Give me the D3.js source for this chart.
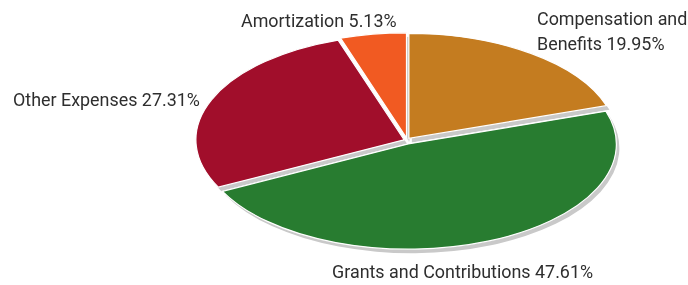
<!DOCTYPE html>
<html>
<head>
<meta charset="utf-8">
<script src="https://cdn.jsdelivr.net/npm/d3@7"></script>
<style>
  html, body { margin: 0; padding: 0; background: #fff; }
  svg { display: block; }
  text { font-family: Roboto, "Liberation Sans", sans-serif; fill: #2e2e2e; }
</style>
</head>
<body>
<svg id="chart" width="688" height="285"></svg>
<script>
// ---- data ----
const categories = ["Compensation and Benefits", "Grants and Contributions", "Other Expenses", "Amortization"];
const values = [19.95, 47.61, 27.31, 5.13];
const colors = ["#C47C20", "#287C30", "#A10E2B", "#F15A22"];
const labelLines = [
  ["Compensation and", "Benefits 19.95%"],
  ["Grants and Contributions 47.61%"],
  ["Other Expenses 27.31%"],
  ["Amortization 5.13%"]
];

// ---- layout ----
const W = 688, H = 285;
const cx = 407, cy = 141, rx = 208, ry = 105;
const explode = 3.2;
const shadowDx = 3, shadowDy = 4;
const labelLayout = [
  { x: 537, y: 25, lineH: 24.5 },
  { x: 332, y: 278 },
  { x: 13, y: 106 },
  { x: 241, y: 27 }
];
const refWidth = 187; // width of "Other Expenses 27.31%" in reference

const svg = d3.select("#chart");

const data = categories.map((c, i) => ({ name: c, value: values[i], color: colors[i], lines: labelLines[i], layout: labelLayout[i] }));

const pie = d3.pie().sort(null).value(d => d.value).startAngle(0).endAngle(2 * Math.PI);
const arcs = pie(data);
const arc = d3.arc().innerRadius(0).outerRadius(1);

function offset(a) {
  const m = (a.startAngle + a.endAngle) / 2;
  return [explode * Math.sin(m), -explode * Math.cos(m)];
}

const defs = svg.append("defs");
defs.append("filter").attr("id", "blur").attr("x", "-10%").attr("y", "-10%").attr("width", "120%").attr("height", "120%")
  .append("feGaussianBlur").attr("stdDeviation", 0.7);

// shadows
svg.append("g").attr("filter", "url(#blur)")
  .selectAll("path").data(arcs).join("path")
  .attr("d", arc)
  .attr("transform", d => {
    const [dx, dy] = offset(d);
    return `translate(${cx + dx + shadowDx},${cy + dy + shadowDy}) scale(${rx},${ry})`;
  })
  .attr("fill", "#c9c9c9");

// slices
svg.append("g")
  .selectAll("path").data(arcs).join("path")
  .attr("d", arc)
  .attr("transform", d => {
    const [dx, dy] = offset(d);
    return `translate(${cx + dx},${cy + dy}) scale(${rx},${ry})`;
  })
  .attr("fill", d => d.data.color)
  .attr("stroke", "#fff")
  .attr("stroke-width", 1.2)
  .attr("vector-effect", "non-scaling-stroke");

// font size fitted to reference label width
const probe = svg.append("text").attr("font-size", 20).text(labelLines[2][0]);
const fontSize = 20 * refWidth / probe.node().getComputedTextLength();
probe.remove();

// labels
const lg = svg.append("g");
data.forEach(d => {
  d.lines.forEach((line, j) => {
    lg.append("text")
      .attr("x", d.layout.x)
      .attr("y", d.layout.y + j * (d.layout.lineH || 0))
      .attr("font-size", fontSize)
      .text(line);
  });
});
</script>
</body>
</html>
